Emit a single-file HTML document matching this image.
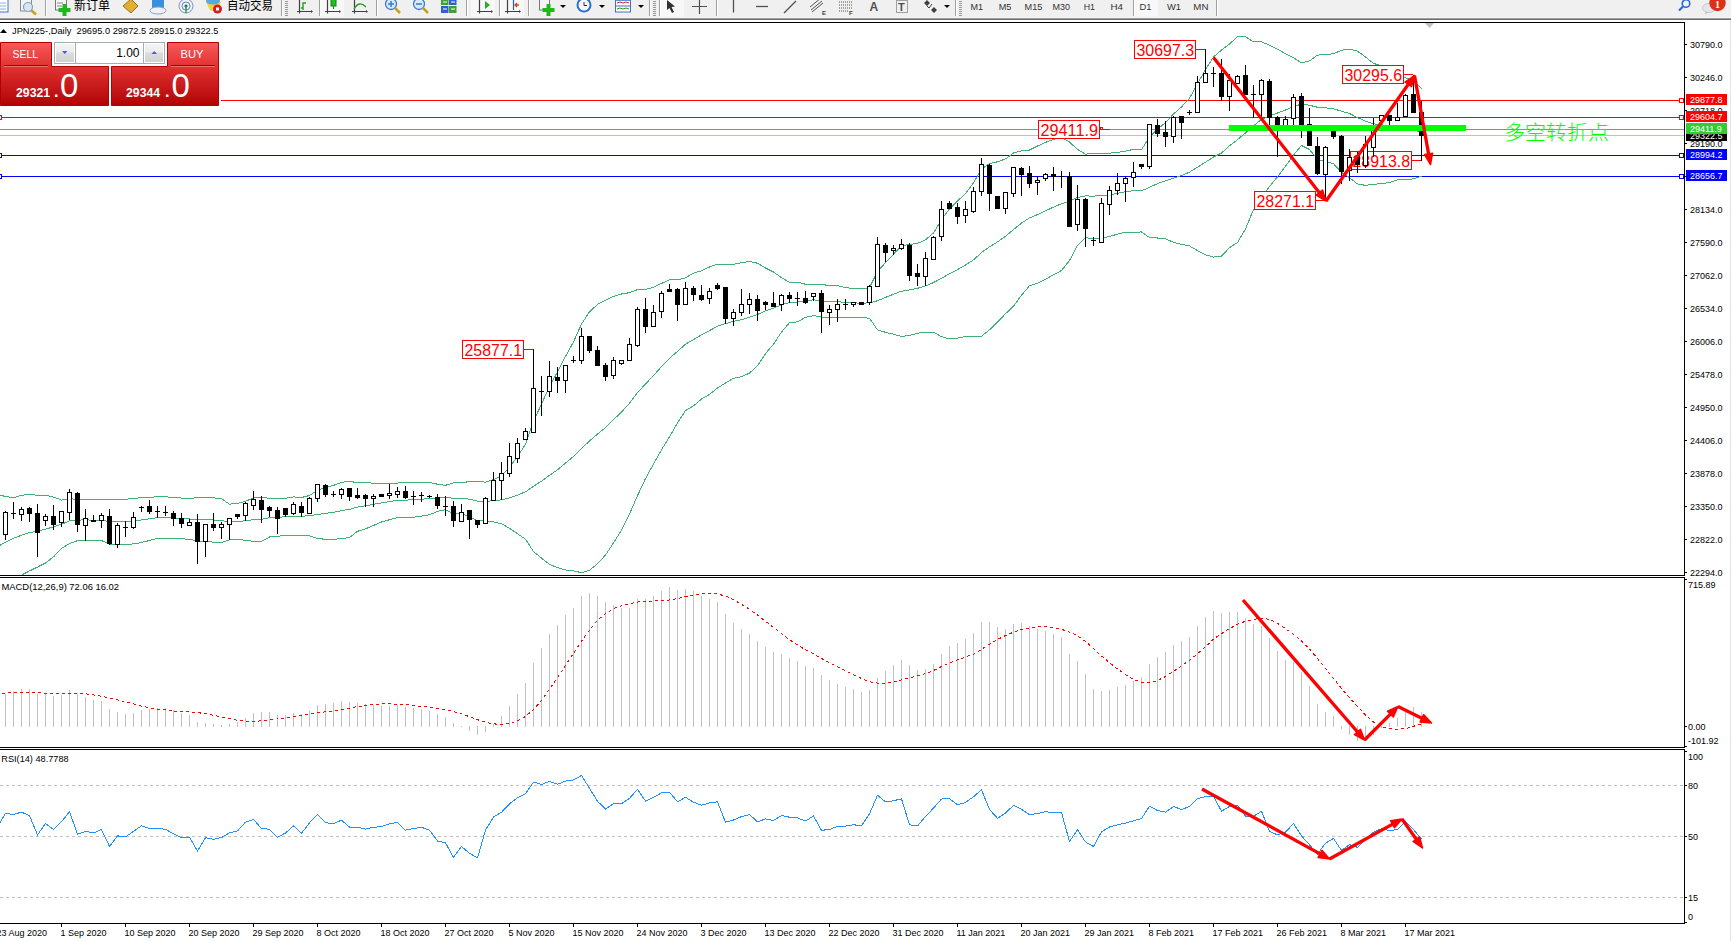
<!DOCTYPE html>
<html><head><meta charset="utf-8"><style>
html,body{margin:0;padding:0;width:1731px;height:941px;overflow:hidden;background:#fff}
</style></head><body>
<svg width="1731" height="941" viewBox="0 0 1731 941" style="position:absolute;left:0;top:0" font-family="'Liberation Sans', Arial, sans-serif">
<defs><clipPath id="cm"><rect x="0" y="23" width="1684" height="552"/></clipPath><clipPath id="cd"><rect x="0" y="578" width="1684" height="169"/></clipPath><clipPath id="cr"><rect x="0" y="750" width="1684" height="173"/></clipPath></defs>
<g clip-path="url(#cm)">
<rect x="221" y="100" width="1463" height="1" fill="#ff0000"/>
<rect x="0" y="117" width="1684" height="1" fill="#ff0000"/>
<rect x="0" y="129" width="1684" height="1" fill="#32cd32"/>
<rect x="0" y="135" width="1684" height="1" fill="#c0c0c0"/>
<rect x="0" y="155" width="1684" height="1" fill="#0000ff"/>
<rect x="0" y="176" width="1684" height="1" fill="#0000ff"/>
<rect x="1679.5" y="98.5" width="4" height="4" fill="#fff" stroke="#ff0000"/>
<rect x="1679.5" y="115.5" width="4" height="4" fill="#fff" stroke="#ff0000"/>
<rect x="-2.5" y="115.5" width="4" height="4" fill="#fff" stroke="#ff0000"/>
<rect x="1679.5" y="153.5" width="4" height="4" fill="#fff" stroke="#0000ff"/>
<rect x="-2.5" y="153.5" width="4" height="4" fill="#fff" stroke="#0000ff"/>
<rect x="1679.5" y="174.5" width="4" height="4" fill="#fff" stroke="#0000ff"/>
<rect x="-2.5" y="174.5" width="4" height="4" fill="#fff" stroke="#0000ff"/>
<polyline points="-3.5,493.91 5.5,496.59 13.5,497.59 21.5,495.41 29.5,494.28 37.5,495.25 45.5,495.08 53.5,497.17 61.5,500.04 69.5,498.46 77.5,499.56 85.5,499.39 93.5,499.83 101.5,499.91 109.5,499.09 117.5,499.12 125.5,499.12 133.5,498.75 141.5,497.47 149.5,497.06 157.5,496.97 165.5,496.93 173.5,497.22 181.5,498.11 189.5,498.67 197.5,497.57 205.5,497.88 213.5,497.87 221.5,498.76 229.5,504.11 237.5,503.58 245.5,501.21 253.5,498.09 261.5,497.36 269.5,498.37 277.5,498.37 285.5,498.23 293.5,496.90 301.5,497.54 309.5,495.49 317.5,490.13 325.5,487.64 333.5,485.34 341.5,482.49 349.5,481.19 357.5,482.84 365.5,482.75 373.5,483.16 381.5,483.69 389.5,483.42 397.5,483.04 405.5,482.77 413.5,482.51 421.5,482.25 429.5,482.34 437.5,484.23 445.5,485.32 453.5,482.86 461.5,482.96 469.5,481.45 477.5,481.61 485.5,482.09 493.5,479.58 501.5,475.94 509.5,467.47 517.5,456.50 525.5,444.40 533.5,421.23 541.5,404.17 549.5,386.28 557.5,371.93 565.5,356.41 573.5,341.87 581.5,324.12 589.5,311.85 597.5,304.44 605.5,300.06 613.5,296.40 621.5,294.00 629.5,292.69 637.5,289.60 645.5,289.42 653.5,287.28 661.5,283.47 669.5,279.91 677.5,279.94 685.5,277.82 693.5,273.12 701.5,270.80 709.5,266.97 717.5,264.11 725.5,264.41 733.5,264.34 741.5,262.77 749.5,261.39 757.5,263.22 765.5,268.05 773.5,272.01 781.5,277.71 789.5,282.41 797.5,282.10 805.5,284.29 813.5,284.05 821.5,284.45 829.5,285.55 837.5,285.56 845.5,287.63 853.5,288.45 861.5,288.77 869.5,287.62 877.5,271.60 885.5,262.53 893.5,254.23 901.5,245.97 909.5,244.41 917.5,243.39 925.5,239.85 933.5,232.93 941.5,219.84 949.5,208.73 957.5,201.09 965.5,193.49 973.5,182.97 981.5,168.98 989.5,163.67 997.5,161.77 1005.5,158.91 1013.5,152.93 1021.5,150.88 1029.5,150.02 1037.5,146.04 1045.5,142.36 1053.5,139.49 1061.5,137.02 1069.5,142.07 1077.5,149.43 1085.5,154.10 1093.5,153.70 1101.5,153.71 1109.5,153.14 1117.5,152.44 1125.5,151.15 1133.5,149.30 1141.5,149.54 1149.5,137.18 1157.5,129.18 1165.5,122.75 1173.5,114.09 1181.5,106.95 1189.5,98.28 1197.5,83.87 1205.5,69.57 1213.5,56.95 1221.5,49.99 1229.5,43.89 1237.5,36.72 1245.5,36.81 1253.5,41.93 1261.5,41.79 1269.5,45.22 1277.5,49.26 1285.5,53.68 1293.5,57.56 1301.5,62.92 1309.5,60.96 1317.5,55.16 1325.5,54.22 1333.5,53.89 1341.5,50.16 1349.5,49.20 1357.5,51.25 1365.5,56.97 1373.5,63.48 1381.5,65.64 1389.5,71.06 1397.5,77.68 1405.5,77.86 1413.5,80.51 1421.5,88.61" fill="none" stroke="#3cb371" stroke-width="1" shape-rendering="crispEdges"/>
<polyline points="-3.5,547.29 5.5,542.20 13.5,538.21 21.5,535.25 29.5,532.61 37.5,531.17 45.5,529.03 53.5,527.01 61.5,524.25 69.5,520.97 77.5,520.10 85.5,519.86 93.5,520.18 101.5,520.22 109.5,521.63 117.5,521.69 125.5,521.76 133.5,521.34 141.5,519.97 149.5,518.79 157.5,517.60 165.5,517.58 173.5,517.80 181.5,518.47 189.5,518.96 197.5,519.40 205.5,519.81 213.5,519.96 221.5,520.61 229.5,521.90 237.5,521.52 245.5,520.75 253.5,519.67 261.5,519.35 269.5,517.68 277.5,517.35 285.5,516.68 293.5,516.03 301.5,516.31 309.5,515.68 317.5,514.36 325.5,513.44 333.5,512.27 341.5,510.61 349.5,509.32 357.5,507.09 365.5,505.80 373.5,504.29 381.5,502.86 389.5,501.58 397.5,500.36 405.5,500.06 413.5,499.88 421.5,499.18 429.5,498.52 437.5,497.83 445.5,497.45 453.5,498.21 461.5,498.18 469.5,499.20 477.5,501.16 485.5,501.40 493.5,500.70 501.5,499.86 509.5,497.86 517.5,495.15 525.5,491.79 533.5,486.38 541.5,481.14 549.5,475.33 557.5,469.75 565.5,463.16 573.5,456.36 581.5,448.41 589.5,441.06 597.5,434.10 605.5,427.58 613.5,419.63 621.5,412.05 629.5,403.35 637.5,392.63 645.5,384.00 653.5,375.60 661.5,366.64 669.5,358.34 677.5,351.40 685.5,344.21 693.5,339.51 701.5,334.92 709.5,330.66 717.5,326.08 725.5,323.69 733.5,321.32 741.5,319.76 749.5,317.24 757.5,314.45 765.5,310.85 773.5,308.11 781.5,304.87 789.5,302.53 797.5,301.98 805.5,300.79 813.5,299.84 821.5,300.71 829.5,301.65 837.5,301.68 845.5,302.52 853.5,302.92 861.5,303.15 869.5,302.91 877.5,300.73 885.5,297.42 893.5,294.23 901.5,291.18 909.5,289.96 917.5,288.30 925.5,285.99 933.5,282.57 941.5,278.27 949.5,273.78 957.5,269.65 965.5,265.02 973.5,259.91 981.5,252.59 989.5,246.76 997.5,241.92 1005.5,236.33 1013.5,229.56 1021.5,223.06 1029.5,217.88 1037.5,214.64 1045.5,210.78 1053.5,207.14 1061.5,203.74 1069.5,201.29 1077.5,197.44 1085.5,195.95 1093.5,196.07 1101.5,195.78 1109.5,194.86 1117.5,193.23 1125.5,191.67 1133.5,190.70 1141.5,190.77 1149.5,187.36 1157.5,183.60 1165.5,180.75 1173.5,178.23 1181.5,175.63 1189.5,172.10 1197.5,167.23 1205.5,162.17 1213.5,157.03 1221.5,153.03 1229.5,145.77 1237.5,139.63 1245.5,132.97 1253.5,125.70 1261.5,119.55 1269.5,115.93 1277.5,113.00 1285.5,110.03 1293.5,106.32 1301.5,104.21 1309.5,105.25 1317.5,107.26 1325.5,107.85 1333.5,108.80 1341.5,111.25 1349.5,113.48 1357.5,117.61 1365.5,121.16 1373.5,123.80 1381.5,124.76 1389.5,126.73 1397.5,128.74 1405.5,128.78 1413.5,129.65 1421.5,132.40" fill="none" stroke="#3cb371" stroke-width="1" shape-rendering="crispEdges"/>
<polyline points="-3.5,600.68 5.5,587.81 13.5,578.82 21.5,575.09 29.5,570.94 37.5,567.09 45.5,562.98 53.5,556.85 61.5,548.46 69.5,543.48 77.5,540.63 85.5,540.33 93.5,540.53 101.5,540.53 109.5,544.17 117.5,544.27 125.5,544.39 133.5,543.94 141.5,542.47 149.5,540.52 157.5,538.23 165.5,538.23 173.5,538.38 181.5,538.82 189.5,539.24 197.5,541.23 205.5,541.73 213.5,542.05 221.5,542.46 229.5,539.70 237.5,539.45 245.5,540.29 253.5,541.25 261.5,541.34 269.5,536.99 277.5,536.32 285.5,535.12 293.5,535.15 301.5,535.07 309.5,535.87 317.5,538.59 325.5,539.25 333.5,539.21 341.5,538.74 349.5,537.45 357.5,531.34 365.5,528.84 373.5,525.42 381.5,522.03 389.5,519.74 397.5,517.68 405.5,517.35 413.5,517.26 421.5,516.10 429.5,514.70 437.5,511.42 445.5,509.59 453.5,513.56 461.5,513.39 469.5,516.94 477.5,520.71 485.5,520.71 493.5,521.83 501.5,523.79 509.5,528.25 517.5,533.80 525.5,539.19 533.5,551.54 541.5,558.11 549.5,564.39 557.5,567.56 565.5,569.90 573.5,570.85 581.5,572.70 589.5,570.27 597.5,563.76 605.5,555.10 613.5,542.86 621.5,530.11 629.5,514.00 637.5,495.67 645.5,478.59 653.5,463.92 661.5,449.80 669.5,436.78 677.5,422.87 685.5,410.60 693.5,405.91 701.5,399.03 709.5,394.34 717.5,388.05 725.5,382.97 733.5,378.30 741.5,376.74 749.5,373.09 757.5,365.69 765.5,353.65 773.5,344.21 781.5,332.03 789.5,322.65 797.5,321.86 805.5,317.29 813.5,315.64 821.5,316.97 829.5,317.75 837.5,317.81 845.5,317.41 853.5,317.39 861.5,317.54 869.5,318.20 877.5,329.85 885.5,332.32 893.5,334.22 901.5,336.40 909.5,335.51 917.5,333.20 925.5,332.13 933.5,332.21 941.5,336.69 949.5,338.83 957.5,338.20 965.5,336.54 973.5,336.84 981.5,336.20 989.5,329.84 997.5,322.08 1005.5,313.75 1013.5,306.19 1021.5,295.25 1029.5,285.74 1037.5,283.24 1045.5,279.20 1053.5,274.80 1061.5,270.47 1069.5,260.51 1077.5,245.45 1085.5,237.79 1093.5,238.45 1101.5,237.84 1109.5,236.58 1117.5,234.03 1125.5,232.20 1133.5,232.10 1141.5,232.00 1149.5,237.54 1157.5,238.01 1165.5,238.76 1173.5,242.38 1181.5,244.31 1189.5,245.92 1197.5,250.58 1205.5,254.78 1213.5,257.10 1221.5,256.08 1229.5,247.66 1237.5,242.54 1245.5,229.13 1253.5,209.46 1261.5,197.31 1269.5,186.65 1277.5,176.75 1285.5,166.38 1293.5,155.07 1301.5,145.50 1309.5,149.55 1317.5,159.36 1325.5,161.48 1333.5,163.71 1341.5,172.35 1349.5,177.76 1357.5,183.96 1365.5,185.35 1373.5,184.11 1381.5,183.88 1389.5,182.40 1397.5,179.79 1405.5,179.71 1413.5,178.80 1421.5,176.18" fill="none" stroke="#3cb371" stroke-width="1" shape-rendering="crispEdges"/>
<rect x="462.5" y="340.5" width="61" height="18" fill="#fff" stroke="#ff0000"/>
<text x="464.5" y="356" font-size="16.8" fill="#ff0000" textLength="57.5" lengthAdjust="spacingAndGlyphs">25877.1</text>
<rect x="524" y="349" width="9" height="1" fill="#ff0000"/>
<rect x="1134.5" y="40.5" width="61" height="18" fill="#fff" stroke="#ff0000"/>
<text x="1136.5" y="56" font-size="16.8" fill="#ff0000" textLength="57.5" lengthAdjust="spacingAndGlyphs">30697.3</text>
<rect x="1196" y="49" width="9" height="1" fill="#ff0000"/>
<rect x="1254.5" y="191.5" width="61" height="18" fill="#fff" stroke="#ff0000"/>
<text x="1256.5" y="207" font-size="16.8" fill="#ff0000" textLength="57.5" lengthAdjust="spacingAndGlyphs">28271.1</text>
<rect x="1316" y="200" width="9" height="1" fill="#ff0000"/>
<rect x="1350.5" y="151.5" width="61" height="18" fill="#fff" stroke="#ff0000"/>
<text x="1352.5" y="167" font-size="16.8" fill="#ff0000" textLength="57.5" lengthAdjust="spacingAndGlyphs">28913.8</text>
<rect x="1412" y="160" width="9" height="1" fill="#ff0000"/>
<rect x="1342.5" y="65.5" width="61" height="18" fill="#fff" stroke="#ff0000"/>
<text x="1344.5" y="81" font-size="16.8" fill="#ff0000" textLength="57.5" lengthAdjust="spacingAndGlyphs">30295.6</text>
<rect x="1404" y="74" width="9" height="1" fill="#ff0000"/>
<rect x="1038.5" y="120.5" width="61" height="18" fill="#fff" stroke="#ff0000"/>
<text x="1040.5" y="136" font-size="16.8" fill="#ff0000" textLength="57.5" lengthAdjust="spacingAndGlyphs">29411.9</text>
<rect x="1100.5" y="127.5" width="2" height="2" fill="#fff" stroke="#ff0000"/>
<rect x="1103" y="129" width="7" height="1" fill="#ff0000"/>
<rect x="5" y="511" width="1" height="29"/>
<rect x="3" y="512" width="5" height="23"/>
<rect x="4" y="513" width="3" height="21" fill="#fff"/>
<rect x="13" y="502" width="1" height="17"/>
<rect x="11" y="513" width="5" height="1"/>
<rect x="21" y="507" width="1" height="14"/>
<rect x="19" y="509" width="5" height="6"/>
<rect x="20" y="510" width="3" height="4" fill="#fff"/>
<rect x="29" y="507" width="1" height="15"/>
<rect x="27" y="508" width="5" height="6"/>
<rect x="37" y="504" width="1" height="53"/>
<rect x="35" y="513" width="5" height="20"/>
<rect x="45" y="514" width="1" height="12"/>
<rect x="43" y="516" width="5" height="5"/>
<rect x="44" y="517" width="3" height="3" fill="#fff"/>
<rect x="53" y="505" width="1" height="25"/>
<rect x="51" y="516" width="5" height="9"/>
<rect x="61" y="511" width="1" height="16"/>
<rect x="59" y="511" width="5" height="12"/>
<rect x="60" y="512" width="3" height="10" fill="#fff"/>
<rect x="69" y="489" width="1" height="31"/>
<rect x="67" y="492" width="5" height="21"/>
<rect x="68" y="493" width="3" height="19" fill="#fff"/>
<rect x="77" y="492" width="1" height="40"/>
<rect x="75" y="493" width="5" height="32"/>
<rect x="85" y="509" width="1" height="32"/>
<rect x="83" y="518" width="5" height="8"/>
<rect x="84" y="519" width="3" height="6" fill="#fff"/>
<rect x="93" y="515" width="1" height="7"/>
<rect x="91" y="520" width="5" height="2"/>
<rect x="101" y="513" width="1" height="15"/>
<rect x="99" y="515" width="5" height="6"/>
<rect x="100" y="516" width="3" height="4" fill="#fff"/>
<rect x="109" y="509" width="1" height="36"/>
<rect x="107" y="516" width="5" height="28"/>
<rect x="117" y="523" width="1" height="25"/>
<rect x="115" y="525" width="5" height="20"/>
<rect x="116" y="526" width="3" height="18" fill="#fff"/>
<rect x="125" y="521" width="1" height="16"/>
<rect x="123" y="527" width="5" height="1"/>
<rect x="133" y="512" width="1" height="17"/>
<rect x="131" y="517" width="5" height="11"/>
<rect x="132" y="518" width="3" height="9" fill="#fff"/>
<rect x="141" y="506" width="1" height="6"/>
<rect x="139" y="507" width="5" height="1"/>
<rect x="149" y="500" width="1" height="14"/>
<rect x="147" y="506" width="5" height="6"/>
<rect x="157" y="506" width="1" height="12"/>
<rect x="155" y="511" width="5" height="1"/>
<rect x="165" y="506" width="1" height="10"/>
<rect x="163" y="512" width="5" height="1"/>
<rect x="173" y="511" width="1" height="15"/>
<rect x="171" y="513" width="5" height="6"/>
<rect x="181" y="513" width="1" height="15"/>
<rect x="179" y="518" width="5" height="6"/>
<rect x="189" y="519" width="1" height="7"/>
<rect x="187" y="522" width="5" height="4"/>
<rect x="188" y="523" width="3" height="2" fill="#fff"/>
<rect x="197" y="514" width="1" height="50"/>
<rect x="195" y="522" width="5" height="20"/>
<rect x="205" y="524" width="1" height="33"/>
<rect x="203" y="524" width="5" height="18"/>
<rect x="204" y="525" width="3" height="16" fill="#fff"/>
<rect x="213" y="513" width="1" height="18"/>
<rect x="211" y="524" width="5" height="4"/>
<rect x="221" y="522" width="1" height="17"/>
<rect x="219" y="524" width="5" height="4"/>
<rect x="220" y="525" width="3" height="2" fill="#fff"/>
<rect x="229" y="518" width="1" height="22"/>
<rect x="227" y="518" width="5" height="7"/>
<rect x="228" y="519" width="3" height="5" fill="#fff"/>
<rect x="237" y="514" width="1" height="5"/>
<rect x="235" y="514" width="5" height="3"/>
<rect x="245" y="502" width="1" height="19"/>
<rect x="243" y="503" width="5" height="13"/>
<rect x="244" y="504" width="3" height="11" fill="#fff"/>
<rect x="253" y="491" width="1" height="19"/>
<rect x="251" y="499" width="5" height="7"/>
<rect x="252" y="500" width="3" height="5" fill="#fff"/>
<rect x="261" y="496" width="1" height="27"/>
<rect x="259" y="500" width="5" height="10"/>
<rect x="269" y="506" width="1" height="11"/>
<rect x="267" y="507" width="5" height="4"/>
<rect x="277" y="507" width="1" height="27"/>
<rect x="275" y="510" width="5" height="9"/>
<rect x="285" y="508" width="1" height="9"/>
<rect x="283" y="508" width="5" height="7"/>
<rect x="293" y="502" width="1" height="13"/>
<rect x="291" y="504" width="5" height="10"/>
<rect x="292" y="505" width="3" height="8" fill="#fff"/>
<rect x="301" y="502" width="1" height="15"/>
<rect x="299" y="506" width="5" height="7"/>
<rect x="309" y="497" width="1" height="17"/>
<rect x="307" y="498" width="5" height="16"/>
<rect x="308" y="499" width="3" height="14" fill="#fff"/>
<rect x="317" y="484" width="1" height="18"/>
<rect x="315" y="484" width="5" height="15"/>
<rect x="316" y="485" width="3" height="13" fill="#fff"/>
<rect x="325" y="484" width="1" height="13"/>
<rect x="323" y="485" width="5" height="10"/>
<rect x="333" y="491" width="1" height="6"/>
<rect x="331" y="494" width="5" height="1"/>
<rect x="341" y="488" width="1" height="11"/>
<rect x="339" y="489" width="5" height="6"/>
<rect x="340" y="490" width="3" height="4" fill="#fff"/>
<rect x="349" y="488" width="1" height="13"/>
<rect x="347" y="488" width="5" height="9"/>
<rect x="357" y="488" width="1" height="11"/>
<rect x="355" y="495" width="5" height="3"/>
<rect x="365" y="494" width="1" height="13"/>
<rect x="363" y="495" width="5" height="4"/>
<rect x="373" y="494" width="1" height="13"/>
<rect x="371" y="496" width="5" height="3"/>
<rect x="372" y="497" width="3" height="1" fill="#fff"/>
<rect x="381" y="494" width="1" height="3"/>
<rect x="379" y="494" width="5" height="3"/>
<rect x="389" y="484" width="1" height="15"/>
<rect x="387" y="493" width="5" height="3"/>
<rect x="388" y="494" width="3" height="1" fill="#fff"/>
<rect x="397" y="487" width="1" height="11"/>
<rect x="395" y="491" width="5" height="4"/>
<rect x="396" y="492" width="3" height="2" fill="#fff"/>
<rect x="405" y="486" width="1" height="13"/>
<rect x="403" y="491" width="5" height="7"/>
<rect x="413" y="491" width="1" height="14"/>
<rect x="411" y="496" width="5" height="1"/>
<rect x="421" y="492" width="1" height="10"/>
<rect x="419" y="495" width="5" height="1"/>
<rect x="429" y="495" width="1" height="3"/>
<rect x="427" y="496" width="5" height="1"/>
<rect x="437" y="494" width="1" height="15"/>
<rect x="435" y="497" width="5" height="9"/>
<rect x="445" y="496" width="1" height="20"/>
<rect x="443" y="506" width="5" height="1"/>
<rect x="453" y="501" width="1" height="26"/>
<rect x="451" y="506" width="5" height="15"/>
<rect x="461" y="504" width="1" height="18"/>
<rect x="459" y="512" width="5" height="10"/>
<rect x="460" y="513" width="3" height="8" fill="#fff"/>
<rect x="469" y="510" width="1" height="29"/>
<rect x="467" y="510" width="5" height="10"/>
<rect x="477" y="520" width="1" height="8"/>
<rect x="475" y="520" width="5" height="5"/>
<rect x="485" y="497" width="1" height="27"/>
<rect x="483" y="498" width="5" height="26"/>
<rect x="484" y="499" width="3" height="24" fill="#fff"/>
<rect x="493" y="472" width="1" height="29"/>
<rect x="491" y="480" width="5" height="21"/>
<rect x="492" y="481" width="3" height="19" fill="#fff"/>
<rect x="501" y="462" width="1" height="38"/>
<rect x="499" y="473" width="5" height="8"/>
<rect x="500" y="474" width="3" height="6" fill="#fff"/>
<rect x="509" y="443" width="1" height="34"/>
<rect x="507" y="456" width="5" height="18"/>
<rect x="508" y="457" width="3" height="16" fill="#fff"/>
<rect x="517" y="438" width="1" height="25"/>
<rect x="515" y="443" width="5" height="16"/>
<rect x="516" y="444" width="3" height="14" fill="#fff"/>
<rect x="525" y="428" width="1" height="12"/>
<rect x="523" y="431" width="5" height="9"/>
<rect x="524" y="432" width="3" height="7" fill="#fff"/>
<rect x="533" y="349" width="1" height="84"/>
<rect x="531" y="388" width="5" height="45"/>
<rect x="532" y="389" width="3" height="43" fill="#fff"/>
<rect x="541" y="376" width="1" height="40"/>
<rect x="539" y="391" width="5" height="1"/>
<rect x="549" y="361" width="1" height="36"/>
<rect x="547" y="376" width="5" height="16"/>
<rect x="548" y="377" width="3" height="14" fill="#fff"/>
<rect x="557" y="367" width="1" height="26"/>
<rect x="555" y="377" width="5" height="4"/>
<rect x="565" y="365" width="1" height="28"/>
<rect x="563" y="365" width="5" height="16"/>
<rect x="564" y="366" width="3" height="14" fill="#fff"/>
<rect x="573" y="356" width="1" height="7"/>
<rect x="571" y="360" width="5" height="1"/>
<rect x="581" y="328" width="1" height="36"/>
<rect x="579" y="336" width="5" height="25"/>
<rect x="580" y="337" width="3" height="23" fill="#fff"/>
<rect x="589" y="336" width="1" height="17"/>
<rect x="587" y="336" width="5" height="15"/>
<rect x="597" y="346" width="1" height="20"/>
<rect x="595" y="350" width="5" height="16"/>
<rect x="605" y="363" width="1" height="18"/>
<rect x="603" y="365" width="5" height="12"/>
<rect x="613" y="357" width="1" height="22"/>
<rect x="611" y="360" width="5" height="16"/>
<rect x="612" y="361" width="3" height="14" fill="#fff"/>
<rect x="621" y="360" width="1" height="5"/>
<rect x="619" y="360" width="5" height="4"/>
<rect x="620" y="361" width="3" height="2" fill="#fff"/>
<rect x="629" y="338" width="1" height="23"/>
<rect x="627" y="344" width="5" height="17"/>
<rect x="628" y="345" width="3" height="15" fill="#fff"/>
<rect x="637" y="307" width="1" height="40"/>
<rect x="635" y="309" width="5" height="37"/>
<rect x="636" y="310" width="3" height="35" fill="#fff"/>
<rect x="645" y="298" width="1" height="35"/>
<rect x="643" y="309" width="5" height="18"/>
<rect x="653" y="305" width="1" height="22"/>
<rect x="651" y="312" width="5" height="15"/>
<rect x="652" y="313" width="3" height="13" fill="#fff"/>
<rect x="661" y="291" width="1" height="27"/>
<rect x="659" y="293" width="5" height="19"/>
<rect x="660" y="294" width="3" height="17" fill="#fff"/>
<rect x="669" y="284" width="1" height="8"/>
<rect x="667" y="289" width="5" height="3"/>
<rect x="677" y="288" width="1" height="33"/>
<rect x="675" y="289" width="5" height="16"/>
<rect x="685" y="282" width="1" height="23"/>
<rect x="683" y="288" width="5" height="17"/>
<rect x="684" y="289" width="3" height="15" fill="#fff"/>
<rect x="693" y="286" width="1" height="15"/>
<rect x="691" y="288" width="5" height="7"/>
<rect x="701" y="285" width="1" height="16"/>
<rect x="699" y="295" width="5" height="5"/>
<rect x="709" y="288" width="1" height="16"/>
<rect x="707" y="291" width="5" height="8"/>
<rect x="708" y="292" width="3" height="6" fill="#fff"/>
<rect x="717" y="283" width="1" height="7"/>
<rect x="715" y="285" width="5" height="4"/>
<rect x="725" y="287" width="1" height="37"/>
<rect x="723" y="287" width="5" height="32"/>
<rect x="733" y="309" width="1" height="17"/>
<rect x="731" y="312" width="5" height="7"/>
<rect x="732" y="313" width="3" height="5" fill="#fff"/>
<rect x="741" y="289" width="1" height="27"/>
<rect x="739" y="304" width="5" height="9"/>
<rect x="740" y="305" width="3" height="7" fill="#fff"/>
<rect x="749" y="293" width="1" height="21"/>
<rect x="747" y="299" width="5" height="6"/>
<rect x="748" y="300" width="3" height="4" fill="#fff"/>
<rect x="757" y="295" width="1" height="26"/>
<rect x="755" y="299" width="5" height="12"/>
<rect x="765" y="301" width="1" height="9"/>
<rect x="763" y="302" width="5" height="3"/>
<rect x="773" y="292" width="1" height="15"/>
<rect x="771" y="303" width="5" height="4"/>
<rect x="781" y="294" width="1" height="17"/>
<rect x="779" y="295" width="5" height="10"/>
<rect x="780" y="296" width="3" height="8" fill="#fff"/>
<rect x="789" y="292" width="1" height="11"/>
<rect x="787" y="295" width="5" height="4"/>
<rect x="797" y="292" width="1" height="14"/>
<rect x="795" y="298" width="5" height="1"/>
<rect x="805" y="291" width="1" height="13"/>
<rect x="803" y="298" width="5" height="5"/>
<rect x="813" y="293" width="1" height="8"/>
<rect x="811" y="293" width="5" height="4"/>
<rect x="812" y="294" width="3" height="2" fill="#fff"/>
<rect x="821" y="290" width="1" height="43"/>
<rect x="819" y="293" width="5" height="19"/>
<rect x="829" y="305" width="1" height="20"/>
<rect x="827" y="309" width="5" height="4"/>
<rect x="828" y="310" width="3" height="2" fill="#fff"/>
<rect x="837" y="299" width="1" height="23"/>
<rect x="835" y="304" width="5" height="6"/>
<rect x="836" y="305" width="3" height="4" fill="#fff"/>
<rect x="845" y="299" width="1" height="11"/>
<rect x="843" y="304" width="5" height="1"/>
<rect x="853" y="302" width="1" height="5"/>
<rect x="851" y="302" width="5" height="3"/>
<rect x="852" y="303" width="3" height="1" fill="#fff"/>
<rect x="861" y="302" width="1" height="3"/>
<rect x="859" y="302" width="5" height="3"/>
<rect x="869" y="285" width="1" height="20"/>
<rect x="867" y="286" width="5" height="17"/>
<rect x="868" y="287" width="3" height="15" fill="#fff"/>
<rect x="877" y="237" width="1" height="50"/>
<rect x="875" y="244" width="5" height="43"/>
<rect x="876" y="245" width="3" height="41" fill="#fff"/>
<rect x="885" y="243" width="1" height="19"/>
<rect x="883" y="245" width="5" height="8"/>
<rect x="893" y="245" width="1" height="10"/>
<rect x="891" y="248" width="5" height="3"/>
<rect x="892" y="249" width="3" height="1" fill="#fff"/>
<rect x="901" y="239" width="1" height="11"/>
<rect x="899" y="244" width="5" height="5"/>
<rect x="900" y="245" width="3" height="3" fill="#fff"/>
<rect x="909" y="243" width="1" height="38"/>
<rect x="907" y="245" width="5" height="31"/>
<rect x="917" y="264" width="1" height="22"/>
<rect x="915" y="273" width="5" height="4"/>
<rect x="925" y="252" width="1" height="34"/>
<rect x="923" y="258" width="5" height="19"/>
<rect x="924" y="259" width="3" height="17" fill="#fff"/>
<rect x="933" y="236" width="1" height="24"/>
<rect x="931" y="237" width="5" height="23"/>
<rect x="932" y="238" width="3" height="21" fill="#fff"/>
<rect x="941" y="201" width="1" height="40"/>
<rect x="939" y="209" width="5" height="28"/>
<rect x="940" y="210" width="3" height="26" fill="#fff"/>
<rect x="949" y="201" width="1" height="8"/>
<rect x="947" y="203" width="5" height="6"/>
<rect x="957" y="203" width="1" height="21"/>
<rect x="955" y="207" width="5" height="10"/>
<rect x="965" y="201" width="1" height="22"/>
<rect x="963" y="209" width="5" height="7"/>
<rect x="964" y="210" width="3" height="5" fill="#fff"/>
<rect x="973" y="187" width="1" height="26"/>
<rect x="971" y="191" width="5" height="21"/>
<rect x="972" y="192" width="3" height="19" fill="#fff"/>
<rect x="981" y="158" width="1" height="38"/>
<rect x="979" y="164" width="5" height="28"/>
<rect x="980" y="165" width="3" height="26" fill="#fff"/>
<rect x="989" y="164" width="1" height="47"/>
<rect x="987" y="165" width="5" height="29"/>
<rect x="997" y="196" width="1" height="13"/>
<rect x="995" y="196" width="5" height="13"/>
<rect x="1005" y="192" width="1" height="22"/>
<rect x="1003" y="192" width="5" height="17"/>
<rect x="1004" y="193" width="3" height="15" fill="#fff"/>
<rect x="1013" y="167" width="1" height="30"/>
<rect x="1011" y="167" width="5" height="27"/>
<rect x="1012" y="168" width="3" height="25" fill="#fff"/>
<rect x="1021" y="167" width="1" height="29"/>
<rect x="1019" y="168" width="5" height="7"/>
<rect x="1029" y="166" width="1" height="22"/>
<rect x="1027" y="173" width="5" height="11"/>
<rect x="1037" y="176" width="1" height="19"/>
<rect x="1035" y="180" width="5" height="3"/>
<rect x="1036" y="181" width="3" height="1" fill="#fff"/>
<rect x="1045" y="173" width="1" height="8"/>
<rect x="1043" y="174" width="5" height="5"/>
<rect x="1044" y="175" width="3" height="3" fill="#fff"/>
<rect x="1053" y="167" width="1" height="24"/>
<rect x="1051" y="174" width="5" height="3"/>
<rect x="1061" y="171" width="1" height="17"/>
<rect x="1059" y="176" width="5" height="1"/>
<rect x="1069" y="172" width="1" height="55"/>
<rect x="1067" y="176" width="5" height="51"/>
<rect x="1077" y="185" width="1" height="46"/>
<rect x="1075" y="199" width="5" height="26"/>
<rect x="1076" y="200" width="3" height="24" fill="#fff"/>
<rect x="1085" y="198" width="1" height="49"/>
<rect x="1083" y="199" width="5" height="30"/>
<rect x="1093" y="237" width="1" height="9"/>
<rect x="1091" y="240" width="5" height="1"/>
<rect x="1101" y="198" width="1" height="45"/>
<rect x="1099" y="203" width="5" height="40"/>
<rect x="1100" y="204" width="3" height="38" fill="#fff"/>
<rect x="1109" y="186" width="1" height="29"/>
<rect x="1107" y="190" width="5" height="15"/>
<rect x="1108" y="191" width="3" height="13" fill="#fff"/>
<rect x="1117" y="173" width="1" height="22"/>
<rect x="1115" y="183" width="5" height="8"/>
<rect x="1116" y="184" width="3" height="6" fill="#fff"/>
<rect x="1125" y="176" width="1" height="26"/>
<rect x="1123" y="178" width="5" height="6"/>
<rect x="1124" y="179" width="3" height="4" fill="#fff"/>
<rect x="1133" y="162" width="1" height="25"/>
<rect x="1131" y="172" width="5" height="6"/>
<rect x="1132" y="173" width="3" height="4" fill="#fff"/>
<rect x="1141" y="164" width="1" height="5"/>
<rect x="1139" y="164" width="5" height="3"/>
<rect x="1149" y="124" width="1" height="45"/>
<rect x="1147" y="124" width="5" height="43"/>
<rect x="1148" y="125" width="3" height="41" fill="#fff"/>
<rect x="1157" y="119" width="1" height="18"/>
<rect x="1155" y="125" width="5" height="9"/>
<rect x="1165" y="121" width="1" height="26"/>
<rect x="1163" y="132" width="5" height="5"/>
<rect x="1173" y="116" width="1" height="27"/>
<rect x="1171" y="117" width="5" height="20"/>
<rect x="1172" y="118" width="3" height="18" fill="#fff"/>
<rect x="1181" y="116" width="1" height="23"/>
<rect x="1179" y="116" width="5" height="7"/>
<rect x="1189" y="110" width="1" height="5"/>
<rect x="1187" y="112" width="5" height="1"/>
<rect x="1197" y="76" width="1" height="37"/>
<rect x="1195" y="82" width="5" height="31"/>
<rect x="1196" y="83" width="3" height="29" fill="#fff"/>
<rect x="1205" y="49" width="1" height="34"/>
<rect x="1203" y="73" width="5" height="10"/>
<rect x="1204" y="74" width="3" height="8" fill="#fff"/>
<rect x="1213" y="67" width="1" height="20"/>
<rect x="1211" y="73" width="5" height="1"/>
<rect x="1221" y="59" width="1" height="42"/>
<rect x="1219" y="73" width="5" height="24"/>
<rect x="1229" y="74" width="1" height="37"/>
<rect x="1227" y="80" width="5" height="17"/>
<rect x="1228" y="81" width="3" height="15" fill="#fff"/>
<rect x="1237" y="75" width="1" height="9"/>
<rect x="1235" y="76" width="5" height="8"/>
<rect x="1236" y="77" width="3" height="6" fill="#fff"/>
<rect x="1245" y="65" width="1" height="30"/>
<rect x="1243" y="75" width="5" height="20"/>
<rect x="1253" y="85" width="1" height="33"/>
<rect x="1251" y="94" width="5" height="1"/>
<rect x="1261" y="79" width="1" height="39"/>
<rect x="1259" y="80" width="5" height="15"/>
<rect x="1260" y="81" width="3" height="13" fill="#fff"/>
<rect x="1269" y="79" width="1" height="47"/>
<rect x="1267" y="81" width="5" height="37"/>
<rect x="1277" y="116" width="1" height="41"/>
<rect x="1275" y="117" width="5" height="9"/>
<rect x="1285" y="116" width="1" height="12"/>
<rect x="1283" y="119" width="5" height="7"/>
<rect x="1284" y="120" width="3" height="5" fill="#fff"/>
<rect x="1293" y="94" width="1" height="31"/>
<rect x="1291" y="97" width="5" height="22"/>
<rect x="1292" y="98" width="3" height="20" fill="#fff"/>
<rect x="1301" y="93" width="1" height="45"/>
<rect x="1299" y="96" width="5" height="29"/>
<rect x="1309" y="108" width="1" height="38"/>
<rect x="1307" y="124" width="5" height="22"/>
<rect x="1317" y="137" width="1" height="38"/>
<rect x="1315" y="146" width="5" height="28"/>
<rect x="1325" y="146" width="1" height="55"/>
<rect x="1323" y="147" width="5" height="28"/>
<rect x="1324" y="148" width="3" height="26" fill="#fff"/>
<rect x="1333" y="130" width="1" height="9"/>
<rect x="1331" y="131" width="5" height="6"/>
<rect x="1341" y="135" width="1" height="49"/>
<rect x="1339" y="136" width="5" height="36"/>
<rect x="1349" y="149" width="1" height="32"/>
<rect x="1347" y="157" width="5" height="14"/>
<rect x="1348" y="158" width="3" height="12" fill="#fff"/>
<rect x="1357" y="152" width="1" height="21"/>
<rect x="1355" y="156" width="5" height="9"/>
<rect x="1365" y="136" width="1" height="32"/>
<rect x="1363" y="144" width="5" height="22"/>
<rect x="1364" y="145" width="3" height="20" fill="#fff"/>
<rect x="1373" y="118" width="1" height="39"/>
<rect x="1371" y="125" width="5" height="23"/>
<rect x="1372" y="126" width="3" height="21" fill="#fff"/>
<rect x="1381" y="115" width="1" height="6"/>
<rect x="1379" y="115" width="5" height="6"/>
<rect x="1380" y="116" width="3" height="4" fill="#fff"/>
<rect x="1389" y="115" width="1" height="11"/>
<rect x="1387" y="115" width="5" height="6"/>
<rect x="1397" y="103" width="1" height="18"/>
<rect x="1395" y="117" width="5" height="4"/>
<rect x="1396" y="118" width="3" height="2" fill="#fff"/>
<rect x="1405" y="94" width="1" height="23"/>
<rect x="1403" y="95" width="5" height="22"/>
<rect x="1404" y="96" width="3" height="20" fill="#fff"/>
<rect x="1413" y="75" width="1" height="38"/>
<rect x="1411" y="94" width="5" height="19"/>
<rect x="1421" y="101" width="1" height="60"/>
<rect x="1419" y="112" width="5" height="24"/>
</g>
<rect x="1229" y="125" width="237" height="6" fill="#00ff00"/>
<path d="M1213.5,57.5 L1323.5,197.9 M1326.0,201.0 L1412.2,78.8 M1414.5,75.5 L1429.8,160.6" fill="none" stroke="#ff0000" stroke-width="3.3" stroke-linecap="butt"/><path d="M1326.0,201.0 L1322.5,190.0 L1316.2,195.0 Z M1414.5,75.5 L1405.0,82.0 L1411.6,86.6 Z M1430.5,164.5 L1432.6,153.2 L1424.6,154.6 Z" fill="#ff0000" stroke="#ff0000" stroke-width="1.5" stroke-linejoin="round"/>
<text x="1504" y="140" font-size="20" fill="#00ff00" font-family="'Liberation Sans', 'Noto Sans CJK SC', sans-serif" font-weight="300" textLength="105" lengthAdjust="spacingAndGlyphs">多空转折点</text>
<g clip-path="url(#cd)">
<rect x="5" y="694" width="1" height="33" fill="#c0c0c0"/>
<rect x="13" y="691" width="1" height="36" fill="#c0c0c0"/>
<rect x="21" y="689" width="1" height="38" fill="#c0c0c0"/>
<rect x="29" y="689" width="1" height="38" fill="#c0c0c0"/>
<rect x="37" y="694" width="1" height="33" fill="#c0c0c0"/>
<rect x="45" y="694" width="1" height="33" fill="#c0c0c0"/>
<rect x="53" y="696" width="1" height="31" fill="#c0c0c0"/>
<rect x="61" y="695" width="1" height="32" fill="#c0c0c0"/>
<rect x="69" y="690" width="1" height="37" fill="#c0c0c0"/>
<rect x="77" y="694" width="1" height="33" fill="#c0c0c0"/>
<rect x="85" y="697" width="1" height="30" fill="#c0c0c0"/>
<rect x="93" y="700" width="1" height="27" fill="#c0c0c0"/>
<rect x="101" y="701" width="1" height="26" fill="#c0c0c0"/>
<rect x="109" y="709" width="1" height="18" fill="#c0c0c0"/>
<rect x="117" y="712" width="1" height="15" fill="#c0c0c0"/>
<rect x="125" y="714" width="1" height="13" fill="#c0c0c0"/>
<rect x="133" y="713" width="1" height="14" fill="#c0c0c0"/>
<rect x="141" y="710" width="1" height="17" fill="#c0c0c0"/>
<rect x="149" y="709" width="1" height="18" fill="#c0c0c0"/>
<rect x="157" y="708" width="1" height="19" fill="#c0c0c0"/>
<rect x="165" y="708" width="1" height="19" fill="#c0c0c0"/>
<rect x="173" y="710" width="1" height="17" fill="#c0c0c0"/>
<rect x="181" y="713" width="1" height="14" fill="#c0c0c0"/>
<rect x="189" y="715" width="1" height="12" fill="#c0c0c0"/>
<rect x="197" y="722" width="1" height="5" fill="#c0c0c0"/>
<rect x="205" y="723" width="1" height="4" fill="#c0c0c0"/>
<rect x="213" y="724" width="1" height="3" fill="#c0c0c0"/>
<rect x="221" y="725" width="1" height="2" fill="#c0c0c0"/>
<rect x="229" y="724" width="1" height="3" fill="#c0c0c0"/>
<rect x="237" y="722" width="1" height="5" fill="#c0c0c0"/>
<rect x="245" y="718" width="1" height="9" fill="#c0c0c0"/>
<rect x="253" y="713" width="1" height="14" fill="#c0c0c0"/>
<rect x="261" y="712" width="1" height="15" fill="#c0c0c0"/>
<rect x="269" y="712" width="1" height="15" fill="#c0c0c0"/>
<rect x="277" y="715" width="1" height="12" fill="#c0c0c0"/>
<rect x="285" y="715" width="1" height="12" fill="#c0c0c0"/>
<rect x="293" y="713" width="1" height="14" fill="#c0c0c0"/>
<rect x="301" y="714" width="1" height="13" fill="#c0c0c0"/>
<rect x="309" y="711" width="1" height="16" fill="#c0c0c0"/>
<rect x="317" y="705" width="1" height="22" fill="#c0c0c0"/>
<rect x="325" y="704" width="1" height="23" fill="#c0c0c0"/>
<rect x="333" y="703" width="1" height="24" fill="#c0c0c0"/>
<rect x="341" y="701" width="1" height="26" fill="#c0c0c0"/>
<rect x="349" y="702" width="1" height="25" fill="#c0c0c0"/>
<rect x="357" y="703" width="1" height="24" fill="#c0c0c0"/>
<rect x="365" y="704" width="1" height="23" fill="#c0c0c0"/>
<rect x="373" y="705" width="1" height="22" fill="#c0c0c0"/>
<rect x="381" y="706" width="1" height="21" fill="#c0c0c0"/>
<rect x="389" y="706" width="1" height="21" fill="#c0c0c0"/>
<rect x="397" y="705" width="1" height="22" fill="#c0c0c0"/>
<rect x="405" y="707" width="1" height="20" fill="#c0c0c0"/>
<rect x="413" y="708" width="1" height="19" fill="#c0c0c0"/>
<rect x="421" y="709" width="1" height="18" fill="#c0c0c0"/>
<rect x="429" y="711" width="1" height="16" fill="#c0c0c0"/>
<rect x="437" y="714" width="1" height="13" fill="#c0c0c0"/>
<rect x="445" y="717" width="1" height="10" fill="#c0c0c0"/>
<rect x="453" y="723" width="1" height="4" fill="#c0c0c0"/>
<rect x="461" y="726" width="1" height="1" fill="#c0c0c0"/>
<rect x="469" y="726" width="1" height="5" fill="#c0c0c0"/>
<rect x="477" y="726" width="1" height="9" fill="#c0c0c0"/>
<rect x="485" y="726" width="1" height="6" fill="#c0c0c0"/>
<rect x="493" y="724" width="1" height="3" fill="#c0c0c0"/>
<rect x="501" y="716" width="1" height="11" fill="#c0c0c0"/>
<rect x="509" y="706" width="1" height="21" fill="#c0c0c0"/>
<rect x="517" y="694" width="1" height="33" fill="#c0c0c0"/>
<rect x="525" y="683" width="1" height="44" fill="#c0c0c0"/>
<rect x="533" y="663" width="1" height="64" fill="#c0c0c0"/>
<rect x="541" y="648" width="1" height="79" fill="#c0c0c0"/>
<rect x="549" y="634" width="1" height="93" fill="#c0c0c0"/>
<rect x="557" y="625" width="1" height="102" fill="#c0c0c0"/>
<rect x="565" y="615" width="1" height="112" fill="#c0c0c0"/>
<rect x="573" y="608" width="1" height="119" fill="#c0c0c0"/>
<rect x="581" y="596" width="1" height="131" fill="#c0c0c0"/>
<rect x="589" y="593" width="1" height="134" fill="#c0c0c0"/>
<rect x="597" y="596" width="1" height="131" fill="#c0c0c0"/>
<rect x="605" y="602" width="1" height="125" fill="#c0c0c0"/>
<rect x="613" y="605" width="1" height="122" fill="#c0c0c0"/>
<rect x="621" y="608" width="1" height="119" fill="#c0c0c0"/>
<rect x="629" y="608" width="1" height="119" fill="#c0c0c0"/>
<rect x="637" y="599" width="1" height="128" fill="#c0c0c0"/>
<rect x="645" y="599" width="1" height="128" fill="#c0c0c0"/>
<rect x="653" y="596" width="1" height="131" fill="#c0c0c0"/>
<rect x="661" y="591" width="1" height="136" fill="#c0c0c0"/>
<rect x="669" y="587" width="1" height="140" fill="#c0c0c0"/>
<rect x="677" y="590" width="1" height="137" fill="#c0c0c0"/>
<rect x="685" y="589" width="1" height="138" fill="#c0c0c0"/>
<rect x="693" y="591" width="1" height="136" fill="#c0c0c0"/>
<rect x="701" y="596" width="1" height="131" fill="#c0c0c0"/>
<rect x="709" y="599" width="1" height="128" fill="#c0c0c0"/>
<rect x="717" y="602" width="1" height="125" fill="#c0c0c0"/>
<rect x="725" y="614" width="1" height="113" fill="#c0c0c0"/>
<rect x="733" y="623" width="1" height="104" fill="#c0c0c0"/>
<rect x="741" y="629" width="1" height="98" fill="#c0c0c0"/>
<rect x="749" y="634" width="1" height="93" fill="#c0c0c0"/>
<rect x="757" y="641" width="1" height="86" fill="#c0c0c0"/>
<rect x="765" y="647" width="1" height="80" fill="#c0c0c0"/>
<rect x="773" y="652" width="1" height="75" fill="#c0c0c0"/>
<rect x="781" y="654" width="1" height="73" fill="#c0c0c0"/>
<rect x="789" y="658" width="1" height="69" fill="#c0c0c0"/>
<rect x="797" y="661" width="1" height="66" fill="#c0c0c0"/>
<rect x="805" y="666" width="1" height="61" fill="#c0c0c0"/>
<rect x="813" y="668" width="1" height="59" fill="#c0c0c0"/>
<rect x="821" y="675" width="1" height="52" fill="#c0c0c0"/>
<rect x="829" y="680" width="1" height="47" fill="#c0c0c0"/>
<rect x="837" y="684" width="1" height="43" fill="#c0c0c0"/>
<rect x="845" y="687" width="1" height="40" fill="#c0c0c0"/>
<rect x="853" y="689" width="1" height="38" fill="#c0c0c0"/>
<rect x="861" y="692" width="1" height="35" fill="#c0c0c0"/>
<rect x="869" y="690" width="1" height="37" fill="#c0c0c0"/>
<rect x="877" y="678" width="1" height="49" fill="#c0c0c0"/>
<rect x="885" y="671" width="1" height="56" fill="#c0c0c0"/>
<rect x="893" y="665" width="1" height="62" fill="#c0c0c0"/>
<rect x="901" y="660" width="1" height="67" fill="#c0c0c0"/>
<rect x="909" y="665" width="1" height="62" fill="#c0c0c0"/>
<rect x="917" y="670" width="1" height="57" fill="#c0c0c0"/>
<rect x="925" y="669" width="1" height="58" fill="#c0c0c0"/>
<rect x="933" y="664" width="1" height="63" fill="#c0c0c0"/>
<rect x="941" y="654" width="1" height="73" fill="#c0c0c0"/>
<rect x="949" y="646" width="1" height="81" fill="#c0c0c0"/>
<rect x="957" y="643" width="1" height="84" fill="#c0c0c0"/>
<rect x="965" y="639" width="1" height="88" fill="#c0c0c0"/>
<rect x="973" y="633" width="1" height="94" fill="#c0c0c0"/>
<rect x="981" y="622" width="1" height="105" fill="#c0c0c0"/>
<rect x="989" y="622" width="1" height="105" fill="#c0c0c0"/>
<rect x="997" y="627" width="1" height="100" fill="#c0c0c0"/>
<rect x="1005" y="629" width="1" height="98" fill="#c0c0c0"/>
<rect x="1013" y="624" width="1" height="103" fill="#c0c0c0"/>
<rect x="1021" y="623" width="1" height="104" fill="#c0c0c0"/>
<rect x="1029" y="626" width="1" height="101" fill="#c0c0c0"/>
<rect x="1037" y="629" width="1" height="98" fill="#c0c0c0"/>
<rect x="1045" y="631" width="1" height="96" fill="#c0c0c0"/>
<rect x="1053" y="634" width="1" height="93" fill="#c0c0c0"/>
<rect x="1061" y="637" width="1" height="90" fill="#c0c0c0"/>
<rect x="1069" y="654" width="1" height="73" fill="#c0c0c0"/>
<rect x="1077" y="661" width="1" height="66" fill="#c0c0c0"/>
<rect x="1085" y="674" width="1" height="53" fill="#c0c0c0"/>
<rect x="1093" y="689" width="1" height="38" fill="#c0c0c0"/>
<rect x="1101" y="691" width="1" height="36" fill="#c0c0c0"/>
<rect x="1109" y="690" width="1" height="37" fill="#c0c0c0"/>
<rect x="1117" y="687" width="1" height="40" fill="#c0c0c0"/>
<rect x="1125" y="685" width="1" height="42" fill="#c0c0c0"/>
<rect x="1133" y="681" width="1" height="46" fill="#c0c0c0"/>
<rect x="1141" y="677" width="1" height="50" fill="#c0c0c0"/>
<rect x="1149" y="664" width="1" height="63" fill="#c0c0c0"/>
<rect x="1157" y="657" width="1" height="70" fill="#c0c0c0"/>
<rect x="1165" y="652" width="1" height="75" fill="#c0c0c0"/>
<rect x="1173" y="645" width="1" height="82" fill="#c0c0c0"/>
<rect x="1181" y="641" width="1" height="86" fill="#c0c0c0"/>
<rect x="1189" y="637" width="1" height="90" fill="#c0c0c0"/>
<rect x="1197" y="626" width="1" height="101" fill="#c0c0c0"/>
<rect x="1205" y="617" width="1" height="110" fill="#c0c0c0"/>
<rect x="1213" y="611" width="1" height="116" fill="#c0c0c0"/>
<rect x="1221" y="613" width="1" height="114" fill="#c0c0c0"/>
<rect x="1229" y="612" width="1" height="115" fill="#c0c0c0"/>
<rect x="1237" y="612" width="1" height="115" fill="#c0c0c0"/>
<rect x="1245" y="618" width="1" height="109" fill="#c0c0c0"/>
<rect x="1253" y="624" width="1" height="103" fill="#c0c0c0"/>
<rect x="1261" y="626" width="1" height="101" fill="#c0c0c0"/>
<rect x="1269" y="638" width="1" height="89" fill="#c0c0c0"/>
<rect x="1277" y="651" width="1" height="76" fill="#c0c0c0"/>
<rect x="1285" y="660" width="1" height="67" fill="#c0c0c0"/>
<rect x="1293" y="662" width="1" height="65" fill="#c0c0c0"/>
<rect x="1301" y="672" width="1" height="55" fill="#c0c0c0"/>
<rect x="1309" y="686" width="1" height="41" fill="#c0c0c0"/>
<rect x="1317" y="704" width="1" height="23" fill="#c0c0c0"/>
<rect x="1325" y="712" width="1" height="15" fill="#c0c0c0"/>
<rect x="1333" y="716" width="1" height="11" fill="#c0c0c0"/>
<rect x="1341" y="726" width="1" height="3" fill="#c0c0c0"/>
<rect x="1349" y="726" width="1" height="9" fill="#c0c0c0"/>
<rect x="1357" y="726" width="1" height="15" fill="#c0c0c0"/>
<rect x="1365" y="726" width="1" height="15" fill="#c0c0c0"/>
<rect x="1373" y="726" width="1" height="9" fill="#c0c0c0"/>
<rect x="1381" y="726" width="1" height="2" fill="#c0c0c0"/>
<rect x="1389" y="723" width="1" height="4" fill="#c0c0c0"/>
<rect x="1397" y="718" width="1" height="9" fill="#c0c0c0"/>
<rect x="1405" y="710" width="1" height="17" fill="#c0c0c0"/>
<rect x="1413" y="707" width="1" height="20" fill="#c0c0c0"/>
<rect x="1421" y="712" width="1" height="15" fill="#c0c0c0"/>
<polyline points="-3.5,694.16 5.5,693.01 13.5,692.47 21.5,692.27 29.5,692.18 37.5,692.71 45.5,693.24 53.5,693.73 61.5,693.81 69.5,693.01 77.5,693.11 85.5,693.72 93.5,694.92 101.5,696.30 109.5,698.04 117.5,699.99 125.5,701.93 133.5,703.92 141.5,706.16 149.5,707.78 157.5,709.04 165.5,709.96 173.5,710.96 181.5,711.32 189.5,711.70 197.5,712.60 205.5,713.67 213.5,715.24 221.5,717.01 229.5,718.73 237.5,720.29 245.5,721.15 253.5,721.21 261.5,720.93 269.5,719.84 277.5,718.89 285.5,717.86 293.5,716.57 301.5,715.51 309.5,714.29 317.5,712.93 325.5,711.86 333.5,710.76 341.5,709.49 349.5,708.05 357.5,706.65 365.5,705.61 373.5,704.57 381.5,703.94 389.5,703.95 397.5,704.16 405.5,704.67 413.5,705.51 421.5,706.35 429.5,707.24 437.5,708.34 445.5,709.70 453.5,711.66 461.5,713.93 469.5,716.66 477.5,719.69 485.5,722.23 493.5,723.85 501.5,724.46 509.5,723.55 517.5,721.00 525.5,716.49 533.5,709.45 541.5,700.38 549.5,689.26 557.5,677.48 565.5,665.44 573.5,653.40 581.5,641.25 589.5,629.98 597.5,620.31 605.5,613.58 613.5,608.71 621.5,605.76 629.5,603.81 637.5,602.03 645.5,601.06 653.5,601.06 661.5,600.83 669.5,599.90 677.5,598.50 685.5,596.73 693.5,594.89 701.5,593.62 709.5,593.61 717.5,594.01 725.5,596.00 733.5,599.61 741.5,604.30 749.5,609.23 757.5,615.09 765.5,621.23 773.5,627.44 781.5,633.57 789.5,639.71 797.5,644.96 805.5,649.69 813.5,653.96 821.5,658.48 829.5,662.79 837.5,666.92 845.5,670.80 853.5,674.69 861.5,678.50 869.5,681.69 877.5,683.01 885.5,683.32 893.5,682.23 901.5,679.95 909.5,677.83 917.5,675.91 925.5,673.67 933.5,670.57 941.5,666.53 949.5,662.98 957.5,659.87 965.5,657.05 973.5,654.11 981.5,649.39 989.5,644.11 997.5,639.47 1005.5,635.51 1013.5,632.20 1021.5,629.68 1029.5,627.85 1037.5,626.67 1045.5,626.39 1053.5,627.66 1061.5,629.28 1069.5,632.18 1077.5,635.74 1085.5,641.35 1093.5,648.67 1101.5,655.91 1109.5,662.68 1117.5,668.98 1125.5,674.65 1133.5,679.57 1141.5,682.21 1149.5,682.59 1157.5,680.60 1165.5,676.50 1173.5,671.32 1181.5,665.89 1189.5,660.25 1197.5,653.77 1205.5,646.63 1213.5,639.23 1221.5,633.58 1229.5,628.69 1237.5,624.24 1245.5,621.27 1253.5,619.36 1261.5,618.16 1269.5,619.49 1277.5,623.26 1285.5,628.75 1293.5,634.22 1301.5,640.83 1309.5,649.02 1317.5,658.62 1325.5,668.48 1333.5,678.49 1341.5,688.45 1349.5,697.63 1357.5,706.51 1365.5,715.09 1373.5,721.99 1381.5,726.57 1389.5,728.60 1397.5,729.28 1405.5,728.60 1413.5,726.32 1421.5,723.92" fill="none" stroke="#ff0000" stroke-width="1" stroke-dasharray="3 3" shape-rendering="crispEdges"/>
<path d="M1243.0,600.0 L1361.9,737.0 M1364.5,740.0 L1395.2,709.3 M1398.0,706.5 L1427.9,721.2" fill="none" stroke="#ff0000" stroke-width="3.3" stroke-linecap="butt"/><path d="M1364.5,740.0 L1360.5,729.2 L1354.4,734.5 Z M1398.0,706.5 L1387.5,711.2 L1393.3,717.0 Z M1431.5,723.0 L1423.6,714.6 L1420.1,721.9 Z" fill="#ff0000" stroke="#ff0000" stroke-width="1.5" stroke-linejoin="round"/>
</g>
<g clip-path="url(#cr)">
<line x1="0" y1="785.5" x2="1684" y2="785.5" stroke="#c0c0c0" stroke-dasharray="3 3"/>
<line x1="0" y1="836.5" x2="1684" y2="836.5" stroke="#c0c0c0" stroke-dasharray="3 3"/>
<line x1="0" y1="897.5" x2="1684" y2="897.5" stroke="#c0c0c0" stroke-dasharray="3 3"/>
<polyline points="-3.5,828.57 5.5,813.41 13.5,814.54 21.5,812.08 29.5,815.77 37.5,834.87 45.5,823.57 53.5,829.61 61.5,821.79 69.5,811.66 77.5,834.20 85.5,831.40 93.5,832.91 101.5,829.53 109.5,846.47 117.5,835.89 125.5,836.88 133.5,831.43 141.5,825.73 149.5,828.39 157.5,828.39 165.5,829.23 173.5,833.81 181.5,837.54 189.5,837.38 197.5,850.93 205.5,837.75 213.5,839.30 221.5,837.54 229.5,832.88 237.5,830.98 245.5,822.09 253.5,819.47 261.5,828.51 269.5,829.24 277.5,837.23 285.5,833.01 293.5,825.84 301.5,833.29 309.5,822.80 317.5,814.30 325.5,822.78 333.5,823.51 341.5,820.21 349.5,827.05 357.5,827.34 365.5,829.07 373.5,827.33 381.5,826.60 389.5,823.71 397.5,822.47 405.5,830.20 413.5,828.57 421.5,827.33 429.5,830.11 437.5,841.01 445.5,842.89 453.5,857.36 461.5,846.58 469.5,853.33 477.5,857.83 485.5,830.11 493.5,817.05 501.5,812.30 509.5,803.81 517.5,797.86 525.5,793.65 533.5,782.09 541.5,784.44 549.5,781.33 557.5,784.25 565.5,781.12 573.5,779.95 581.5,775.52 589.5,788.29 597.5,801.28 605.5,808.96 613.5,803.69 621.5,803.59 629.5,798.40 637.5,789.38 645.5,801.05 653.5,797.47 661.5,792.88 669.5,792.26 677.5,801.77 685.5,797.30 693.5,802.16 701.5,805.29 709.5,802.84 717.5,801.75 725.5,822.23 733.5,820.03 741.5,816.63 749.5,814.51 757.5,821.79 765.5,818.94 773.5,820.47 781.5,815.48 789.5,817.23 797.5,817.90 805.5,820.96 813.5,816.03 821.5,830.31 829.5,829.52 837.5,826.25 845.5,826.04 853.5,824.73 861.5,825.85 869.5,813.91 877.5,795.22 885.5,801.95 893.5,800.72 901.5,798.81 909.5,824.76 917.5,825.95 925.5,816.48 933.5,808.16 941.5,799.05 949.5,798.64 957.5,804.70 965.5,802.49 973.5,796.75 981.5,789.83 989.5,809.42 997.5,818.30 1005.5,812.96 1013.5,805.42 1021.5,809.32 1029.5,814.65 1037.5,813.54 1045.5,811.73 1053.5,812.61 1061.5,812.53 1069.5,841.42 1077.5,829.84 1085.5,841.92 1093.5,846.58 1101.5,831.76 1109.5,827.01 1117.5,824.83 1125.5,823.05 1133.5,820.78 1141.5,818.63 1149.5,806.08 1157.5,810.51 1165.5,812.13 1173.5,806.53 1181.5,809.44 1189.5,806.58 1197.5,798.55 1205.5,796.52 1213.5,796.35 1221.5,811.11 1229.5,806.49 1237.5,805.34 1245.5,816.28 1253.5,816.28 1261.5,811.22 1269.5,831.44 1277.5,834.84 1285.5,832.18 1293.5,823.44 1301.5,835.96 1309.5,844.78 1317.5,854.20 1325.5,843.13 1333.5,838.48 1341.5,850.35 1349.5,844.70 1357.5,847.32 1365.5,839.28 1373.5,832.30 1381.5,828.70 1389.5,830.74 1397.5,829.53 1405.5,821.83 1413.5,829.49 1421.5,839.24" fill="none" stroke="#1e90ff" stroke-width="1" shape-rendering="crispEdges"/>
<path d="M1202.0,789.0 L1326.0,857.1 M1329.5,859.0 L1398.5,820.9 M1402.0,819.0 L1420.2,844.7" fill="none" stroke="#ff0000" stroke-width="3.3" stroke-linecap="butt"/><path d="M1329.5,859.0 L1322.0,850.3 L1318.1,857.4 Z M1402.0,819.0 L1390.6,820.7 L1394.5,827.7 Z M1422.5,848.0 L1419.6,836.9 L1413.0,841.5 Z" fill="#ff0000" stroke="#ff0000" stroke-width="1.5" stroke-linejoin="round"/>
</g>
<rect x="0" y="22" width="1685" height="1"/><rect x="1684" y="22" width="1" height="554"/><rect x="0" y="575" width="1685" height="1"/>
<rect x="0" y="577" width="1685" height="1"/><rect x="1684" y="577" width="1" height="171"/><rect x="0" y="747" width="1685" height="1"/>
<rect x="0" y="749" width="1685" height="1"/><rect x="1684" y="749" width="1" height="175"/><rect x="0" y="923" width="1685" height="1"/>
<rect x="1685" y="44" width="2" height="1"/>
<text x="1690" y="47.5" font-size="9" fill="#000">30790.0</text>
<rect x="1685" y="77" width="2" height="1"/>
<text x="1690" y="80.5" font-size="9" fill="#000">30246.0</text>
<rect x="1685" y="110" width="2" height="1"/>
<text x="1690" y="113.5" font-size="9" fill="#000">29718.0</text>
<rect x="1685" y="143" width="2" height="1"/>
<text x="1690" y="146.5" font-size="9" fill="#000">29190.0</text>
<rect x="1685" y="176" width="2" height="1"/>
<text x="1690" y="179.5" font-size="9" fill="#000">28662.0</text>
<rect x="1685" y="209" width="2" height="1"/>
<text x="1690" y="212.5" font-size="9" fill="#000">28134.0</text>
<rect x="1685" y="242" width="2" height="1"/>
<text x="1690" y="245.5" font-size="9" fill="#000">27590.0</text>
<rect x="1685" y="275" width="2" height="1"/>
<text x="1690" y="278.5" font-size="9" fill="#000">27062.0</text>
<rect x="1685" y="308" width="2" height="1"/>
<text x="1690" y="311.5" font-size="9" fill="#000">26534.0</text>
<rect x="1685" y="341" width="2" height="1"/>
<text x="1690" y="344.5" font-size="9" fill="#000">26006.0</text>
<rect x="1685" y="374" width="2" height="1"/>
<text x="1690" y="377.5" font-size="9" fill="#000">25478.0</text>
<rect x="1685" y="407" width="2" height="1"/>
<text x="1690" y="410.5" font-size="9" fill="#000">24950.0</text>
<rect x="1685" y="440" width="2" height="1"/>
<text x="1690" y="443.5" font-size="9" fill="#000">24406.0</text>
<rect x="1685" y="473" width="2" height="1"/>
<text x="1690" y="476.5" font-size="9" fill="#000">23878.0</text>
<rect x="1685" y="506" width="2" height="1"/>
<text x="1690" y="509.5" font-size="9" fill="#000">23350.0</text>
<rect x="1685" y="539" width="2" height="1"/>
<text x="1690" y="542.5" font-size="9" fill="#000">22822.0</text>
<rect x="1685" y="572" width="2" height="1"/>
<text x="1690" y="575.5" font-size="9" fill="#000">22294.0</text>
<rect x="1686" y="170" width="41" height="11" fill="#0000ff"/>
<text x="1690" y="179" font-size="9" fill="#fff">28656.7</text>
<rect x="1686" y="149" width="41" height="11" fill="#0000ff"/>
<text x="1690" y="158" font-size="9" fill="#fff">28994.2</text>
<rect x="1686" y="130" width="41" height="11" fill="#000000"/>
<text x="1690" y="139" font-size="9" fill="#fff">29322.5</text>
<rect x="1686" y="123" width="41" height="11" fill="#32cd32"/>
<text x="1690" y="132" font-size="9" fill="#fff">29411.9</text>
<rect x="1686" y="111" width="41" height="11" fill="#ff0000"/>
<text x="1690" y="120" font-size="9" fill="#fff">29604.7</text>
<rect x="1686" y="94" width="41" height="11" fill="#ff0000"/>
<text x="1690" y="103" font-size="9" fill="#fff">29877.8</text>
<rect x="1685" y="579" width="2" height="1"/><rect x="1685" y="726" width="2" height="1"/><rect x="1685" y="746" width="2" height="1"/>
<text x="1688" y="588" font-size="9" fill="#000">715.89</text>
<text x="1688" y="729.5" font-size="9" fill="#000">0.00</text>
<text x="1688" y="744" font-size="9" fill="#000">-101.92</text>
<text x="1.5" y="590" font-size="9" fill="#000" textLength="117.5" lengthAdjust="spacingAndGlyphs">MACD(12,26,9) 72.06 16.02</text>
<rect x="1685" y="751" width="2" height="1"/>
<text x="1688" y="760" font-size="9" fill="#000">100</text>
<rect x="1685" y="785" width="2" height="1"/>
<text x="1688" y="788.5" font-size="9" fill="#000">80</text>
<rect x="1685" y="836" width="2" height="1"/>
<text x="1688" y="839.5" font-size="9" fill="#000">50</text>
<rect x="1685" y="897" width="2" height="1"/>
<text x="1688" y="900.5" font-size="9" fill="#000">15</text>
<rect x="1685" y="922" width="2" height="1"/>
<text x="1688" y="920" font-size="9" fill="#000">0</text>
<text x="1.3" y="762" font-size="9" fill="#000" textLength="67.3" lengthAdjust="spacingAndGlyphs">RSI(14) 48.7788</text>
<rect x="-3" y="924" width="1" height="3"/>
<text x="-3.5" y="936" font-size="9" fill="#000">23 Aug 2020</text>
<rect x="61" y="924" width="1" height="3"/>
<text x="60.5" y="936" font-size="9" fill="#000">1 Sep 2020</text>
<rect x="125" y="924" width="1" height="3"/>
<text x="124.5" y="936" font-size="9" fill="#000">10 Sep 2020</text>
<rect x="189" y="924" width="1" height="3"/>
<text x="188.5" y="936" font-size="9" fill="#000">20 Sep 2020</text>
<rect x="253" y="924" width="1" height="3"/>
<text x="252.5" y="936" font-size="9" fill="#000">29 Sep 2020</text>
<rect x="317" y="924" width="1" height="3"/>
<text x="316.5" y="936" font-size="9" fill="#000">8 Oct 2020</text>
<rect x="381" y="924" width="1" height="3"/>
<text x="380.5" y="936" font-size="9" fill="#000">18 Oct 2020</text>
<rect x="445" y="924" width="1" height="3"/>
<text x="444.5" y="936" font-size="9" fill="#000">27 Oct 2020</text>
<rect x="509" y="924" width="1" height="3"/>
<text x="508.5" y="936" font-size="9" fill="#000">5 Nov 2020</text>
<rect x="573" y="924" width="1" height="3"/>
<text x="572.5" y="936" font-size="9" fill="#000">15 Nov 2020</text>
<rect x="637" y="924" width="1" height="3"/>
<text x="636.5" y="936" font-size="9" fill="#000">24 Nov 2020</text>
<rect x="701" y="924" width="1" height="3"/>
<text x="700.5" y="936" font-size="9" fill="#000">3 Dec 2020</text>
<rect x="765" y="924" width="1" height="3"/>
<text x="764.5" y="936" font-size="9" fill="#000">13 Dec 2020</text>
<rect x="829" y="924" width="1" height="3"/>
<text x="828.5" y="936" font-size="9" fill="#000">22 Dec 2020</text>
<rect x="893" y="924" width="1" height="3"/>
<text x="892.5" y="936" font-size="9" fill="#000">31 Dec 2020</text>
<rect x="957" y="924" width="1" height="3"/>
<text x="956.5" y="936" font-size="9" fill="#000">11 Jan 2021</text>
<rect x="1021" y="924" width="1" height="3"/>
<text x="1020.5" y="936" font-size="9" fill="#000">20 Jan 2021</text>
<rect x="1085" y="924" width="1" height="3"/>
<text x="1084.5" y="936" font-size="9" fill="#000">29 Jan 2021</text>
<rect x="1149" y="924" width="1" height="3"/>
<text x="1148.5" y="936" font-size="9" fill="#000">8 Feb 2021</text>
<rect x="1213" y="924" width="1" height="3"/>
<text x="1212.5" y="936" font-size="9" fill="#000">17 Feb 2021</text>
<rect x="1277" y="924" width="1" height="3"/>
<text x="1276.5" y="936" font-size="9" fill="#000">26 Feb 2021</text>
<rect x="1341" y="924" width="1" height="3"/>
<text x="1340.5" y="936" font-size="9" fill="#000">8 Mar 2021</text>
<rect x="1405" y="924" width="1" height="3"/>
<text x="1404.5" y="936" font-size="9" fill="#000">17 Mar 2021</text>
<path d="M0,33 L3.5,29 L7,33 Z" fill="#000"/>
<text x="12" y="34" font-size="9" fill="#000" xml:space="preserve" textLength="206.5" lengthAdjust="spacingAndGlyphs">JPN225-,Daily  29695.0 29872.5 28915.0 29322.5</text>
<defs><linearGradient id="rg" x1="0" y1="0" x2="0" y2="1"><stop offset="0" stop-color="#f75a5a"/><stop offset="0.36" stop-color="#e33434"/><stop offset="0.4" stop-color="#e03030"/><stop offset="1" stop-color="#b00404"/></linearGradient><linearGradient id="bg1" x1="0" y1="0" x2="0" y2="1"><stop offset="0" stop-color="#f4f4f4"/><stop offset="0.45" stop-color="#ececec"/><stop offset="0.5" stop-color="#dcdcdc"/><stop offset="1" stop-color="#d2d2d2"/></linearGradient></defs>
<path d="M0.5,42.5 H51.5 V66.5 H108.5 V105.5 H0.5 Z" fill="url(#rg)" stroke="#b40000"/>
<path d="M218.5,42.5 H167.5 V66.5 H111.5 V105.5 H218.5 Z" fill="url(#rg)" stroke="#b40000"/>
<rect x="4" y="65" width="44" height="1" fill="#a00000"/><rect x="4" y="66" width="44" height="1" fill="#f07070"/>
<rect x="171" y="65" width="44" height="1" fill="#a00000"/><rect x="171" y="66" width="44" height="1" fill="#f07070"/>
<rect x="52" y="42" width="115" height="24" fill="#fff"/>
<rect x="54.5" y="42.5" width="110" height="21" fill="#fff" stroke="#a7abb2"/>
<rect x="56" y="44" width="18" height="18" fill="url(#bg1)"/><rect x="75" y="43" width="1" height="20" fill="#a7abb2"/>
<rect x="145" y="44" width="18" height="18" fill="url(#bg1)"/><rect x="143" y="43" width="1" height="20" fill="#a7abb2"/>
<path d="M62,51 L67.5,51 L64.75,54 Z" fill="#4a5fd0"/><path d="M151.5,54 L157,54 L154.25,51 Z" fill="#4a5fd0"/>
<text x="139.5" y="57" font-size="12" text-anchor="end" fill="#000">1.00</text>
<text x="12.5" y="57.5" font-size="11.5" fill="#fff" textLength="25.5" lengthAdjust="spacingAndGlyphs">SELL</text>
<text x="180.5" y="57.5" font-size="11.5" fill="#fff" textLength="23" lengthAdjust="spacingAndGlyphs">BUY</text>
<text x="16" y="97" font-size="12.3" font-weight="bold" fill="#fff">29321</text>
<text x="54" y="97" font-size="16" font-weight="bold" fill="#fff">.</text>
<text x="60" y="97" font-size="33" fill="#fff">0</text>
<text x="126" y="97" font-size="12.3" font-weight="bold" fill="#fff">29344</text>
<text x="165" y="97" font-size="16" font-weight="bold" fill="#fff">.</text>
<text x="171.5" y="97" font-size="33" fill="#fff">0</text>
<rect x="0" y="0" width="1731" height="18" fill="#f0f0f0"/><rect x="0" y="17" width="1731" height="1" fill="#f6f6f6"/><rect x="0" y="18" width="1731" height="1" fill="#9c9c9c"/><rect x="0" y="19" width="1731" height="1" fill="#6e6e6e"/>
<rect x="-3" y="-3" width="11" height="15" fill="#fff" stroke="#3b78c8"/><path d="M0,3h6M0,6h6M0,9h6" stroke="#8fb0e0"/>
<rect x="20.5" y="-3" width="11" height="14" fill="#f4f4f4" stroke="#888"/><circle cx="28" cy="7" r="4.5" fill="#dbe6f4" stroke="#7aa0d8" stroke-width="1.2"/><path d="M31,10 L36,14.5" stroke="#c9a020" stroke-width="2.5"/>
<rect x="45" y="0" width="1" height="16" fill="#a0a0a0"/><rect x="46" y="0" width="1" height="16" fill="#ffffff"/>
<rect x="55.5" y="-3" width="11" height="13" fill="#f4f4f4" stroke="#777"/><path d="M57,3h6M57,6h5" stroke="#888"/><path d="M64.5,4 v12 M58.5,10 h12" stroke="#1db81d" stroke-width="4"/>
<text x="74" y="10" font-size="12.5" fill="#000" font-family="'Liberation Sans', 'Noto Sans CJK SC', sans-serif" textLength="36" lengthAdjust="spacingAndGlyphs">新订单</text>
<path d="M123,6 L131,-1 L138,6 L131,13 Z" fill="#e0b030" stroke="#a07010"/>
<rect x="152" y="-2" width="12" height="10" fill="#3a8ee0"/><ellipse cx="158" cy="10.5" rx="8" ry="3.5" fill="#eef2f8" stroke="#8fa0b8"/>
<circle cx="186" cy="6" r="7" fill="none" stroke="#4070c0" stroke-width="1" opacity="0.7"/><circle cx="186" cy="6" r="4" fill="none" stroke="#4070c0" opacity="0.8"/><circle cx="186" cy="6" r="1.5" fill="#2050b0"/><path d="M186,6 v7" stroke="#30a030" stroke-width="1.5"/>
<path d="M206,2 Q213,-2 221,2 L216,12 L210,10 Z" fill="#f0d040"/><ellipse cx="213" cy="1" rx="7" ry="3.5" fill="#58a8e0"/><circle cx="217.5" cy="9" r="4.5" fill="#d02020"/><rect x="216" y="7.5" width="3" height="3" fill="#fff"/>
<text x="227" y="10" font-size="12.5" fill="#000" font-family="'Liberation Sans', 'Noto Sans CJK SC', sans-serif" textLength="46" lengthAdjust="spacingAndGlyphs">自动交易</text>
<rect x="281" y="0" width="1" height="16" fill="#a0a0a0"/><rect x="282" y="0" width="1" height="16" fill="#ffffff"/>
<rect x="285" y="1" width="3" height="1" fill="#9a9a9a"/>
<rect x="285" y="3" width="3" height="1" fill="#9a9a9a"/>
<rect x="285" y="5" width="3" height="1" fill="#9a9a9a"/>
<rect x="285" y="7" width="3" height="1" fill="#9a9a9a"/>
<rect x="285" y="9" width="3" height="1" fill="#9a9a9a"/>
<rect x="285" y="11" width="3" height="1" fill="#9a9a9a"/>
<rect x="285" y="13" width="3" height="1" fill="#9a9a9a"/>
<rect x="285" y="15" width="3" height="1" fill="#9a9a9a"/>
<path d="M299.5,0 V13.5 M297,11.5 H311" stroke="#404040" stroke-width="1.2" fill="none"/><path d="M311,10 l2,1.5 l-2,1.5z" fill="#404040"/>
<path d="M303,10 V3 h3 M303,8 h-2" stroke="#20a020" stroke-width="1.4" fill="none"/>
<rect x="319" y="0" width="1" height="16" fill="#a0a0a0"/><rect x="320" y="0" width="1" height="16" fill="#ffffff"/>
<rect x="321" y="0" width="23" height="16.5" fill="#f8f8f8"/>
<path d="M327.5,0 V13.5 M325,11.5 H339" stroke="#404040" stroke-width="1.2" fill="none"/><path d="M339,10 l2,1.5 l-2,1.5z" fill="#404040"/>
<rect x="331" y="-1" width="5" height="7" fill="#20c020" stroke="#108010"/><path d="M333.5,6 v3" stroke="#108010"/>
<path d="M354.5,0 V13.5 M352,11.5 H366" stroke="#404040" stroke-width="1.2" fill="none"/><path d="M366,10 l2,1.5 l-2,1.5z" fill="#404040"/>
<path d="M354,9 Q359,0 366,7" stroke="#20a020" stroke-width="1.3" fill="none"/>
<rect x="376" y="0" width="1" height="16" fill="#a0a0a0"/><rect x="377" y="0" width="1" height="16" fill="#ffffff"/>
<circle cx="391" cy="4" r="5.5" fill="#d8e8f8" stroke="#3a7ad0" stroke-width="1.3"/><path d="M388,4h6M391,1v6" stroke="#3a7ad0" stroke-width="1.5"/><path d="M395,8 L400,13" stroke="#c8a020" stroke-width="2.5"/>
<circle cx="419" cy="4" r="5.5" fill="#d8e8f8" stroke="#3a7ad0" stroke-width="1.3"/><path d="M416,4h6" stroke="#3a7ad0" stroke-width="1.5"/><path d="M423,8 L428,13" stroke="#c8a020" stroke-width="2.5"/>
<rect x="441" y="-1" width="7.5" height="6" fill="#40a030"/><rect x="449" y="-1" width="7.5" height="6" fill="#3060d0"/><rect x="441" y="6" width="7.5" height="7" fill="#3060d0"/><rect x="449" y="6" width="7.5" height="7" fill="#40a030"/><path d="M443,2h4M451,2h4M443,9h4M451,9h4" stroke="#fff"/>
<rect x="466" y="0" width="1" height="16" fill="#a0a0a0"/><rect x="467" y="0" width="1" height="16" fill="#ffffff"/>
<rect x="471" y="0" width="24" height="16.5" fill="#f8f8f8"/>
<path d="M479.5,0 V13.5 M477,11.5 H491" stroke="#404040" stroke-width="1.2" fill="none"/><path d="M491,10 l2,1.5 l-2,1.5z" fill="#404040"/>
<path d="M485,1 L490,5 L485,9 Z" fill="#20b020"/>
<rect x="499" y="0" width="1" height="16" fill="#a0a0a0"/><rect x="500" y="0" width="1" height="16" fill="#ffffff"/>
<rect x="501" y="0" width="23" height="16.5" fill="#f8f8f8"/>
<path d="M507.5,0 V13.5 M505,11.5 H519" stroke="#404040" stroke-width="1.2" fill="none"/><path d="M519,10 l2,1.5 l-2,1.5z" fill="#404040"/>
<path d="M513.5,0 V10" stroke="#2060c0" stroke-width="1.2"/><path d="M519,5 L515,5 M517,3 L515,5 L517,7" stroke="#e04010" stroke-width="1.3" fill="none"/>
<rect x="528" y="0" width="1" height="16" fill="#a0a0a0"/><rect x="529" y="0" width="1" height="16" fill="#ffffff"/>
<rect x="539.5" y="-3" width="10" height="13" fill="#f4f4f4" stroke="#777"/><path d="M548.5,4 v12 M542.5,10 h12" stroke="#1db81d" stroke-width="4"/>
<path d="M560,5 h6 l-3,3z" fill="#000"/>
<circle cx="584" cy="5" r="7.5" fill="#2a70d0"/><circle cx="584" cy="5" r="5.5" fill="#f8f8f8"/><path d="M584,2 V5.5 H587" stroke="#333" fill="none"/>
<path d="M599,5 h6 l-3,3z" fill="#000"/>
<rect x="615.5" y="-1" width="15" height="13" fill="#fff" stroke="#4070c0"/><rect x="616" y="-1" width="14" height="2" fill="#6090e0"/><path d="M617,3 l3,-1 l3,1 l3,-1 l3,1" stroke="#c03020" fill="none"/><path d="M617,9 l3,-1 l3,1 l3,-1 l3,1" stroke="#20a020" fill="none"/><path d="M616,6h14" stroke="#4070c0"/>
<path d="M638,5 h6 l-3,3z" fill="#000"/>
<rect x="649" y="0" width="1" height="16" fill="#a0a0a0"/><rect x="650" y="0" width="1" height="16" fill="#ffffff"/>
<rect x="653" y="1" width="3" height="1" fill="#9a9a9a"/>
<rect x="653" y="3" width="3" height="1" fill="#9a9a9a"/>
<rect x="653" y="5" width="3" height="1" fill="#9a9a9a"/>
<rect x="653" y="7" width="3" height="1" fill="#9a9a9a"/>
<rect x="653" y="9" width="3" height="1" fill="#9a9a9a"/>
<rect x="653" y="11" width="3" height="1" fill="#9a9a9a"/>
<rect x="653" y="13" width="3" height="1" fill="#9a9a9a"/>
<rect x="653" y="15" width="3" height="1" fill="#9a9a9a"/>
<rect x="659" y="0" width="1" height="16" fill="#a0a0a0"/><rect x="660" y="0" width="1" height="16" fill="#ffffff"/>
<rect x="661" y="0" width="23" height="16.5" fill="#f8f8f8"/>
<path d="M667,0 L667,10 L669.5,8 L672,13 L674,12 L671.5,7 L675,6.5 Z" fill="#303030"/>
<path d="M692,6.5 H707 M699.5,0 V14" stroke="#505050" stroke-width="1.2"/>
<rect x="716" y="0" width="1" height="16" fill="#a0a0a0"/><rect x="717" y="0" width="1" height="16" fill="#ffffff"/>
<path d="M733.5,0 V12.5" stroke="#505050" stroke-width="1.3"/>
<path d="M756,6.5 H768" stroke="#505050" stroke-width="1.3"/>
<path d="M784,13 L796,1" stroke="#505050" stroke-width="1.3"/>
<path d="M811,10 L822,1 M812,12 L823,3 M810,7 L821,-2" stroke="#505050" stroke-width="1"/><text x="822" y="15" font-size="6" font-weight="bold" fill="#404040">E</text>
<path d="M839,2H852M839,5H852M839,8H852M839,11H848" stroke="#505050" stroke-dasharray="1 1"/><text x="849" y="15" font-size="6" font-weight="bold" fill="#404040">F</text>
<text x="869.5" y="11" font-size="12" font-weight="bold" fill="#505050">A</text>
<rect x="896.5" y="0.5" width="11" height="12" fill="none" stroke="#505050" stroke-dasharray="1 1"/><text x="898" y="11" font-size="11" font-weight="bold" fill="#505050">T</text>
<path d="M924,3 l3,-3 l3,3 l-3,3z M931,10 l3,-3 l3,3 l-3,3z" fill="#404040"/><path d="M927,6 l2,2 l3,-4" stroke="#404040" fill="none"/>
<path d="M944,5 h6 l-3,3z" fill="#000"/>
<rect x="955" y="0" width="1" height="16" fill="#a0a0a0"/><rect x="956" y="0" width="1" height="16" fill="#ffffff"/>
<rect x="959" y="1" width="3" height="1" fill="#9a9a9a"/>
<rect x="959" y="3" width="3" height="1" fill="#9a9a9a"/>
<rect x="959" y="5" width="3" height="1" fill="#9a9a9a"/>
<rect x="959" y="7" width="3" height="1" fill="#9a9a9a"/>
<rect x="959" y="9" width="3" height="1" fill="#9a9a9a"/>
<rect x="959" y="11" width="3" height="1" fill="#9a9a9a"/>
<rect x="959" y="13" width="3" height="1" fill="#9a9a9a"/>
<rect x="959" y="15" width="3" height="1" fill="#9a9a9a"/>
<rect x="1133" y="0" width="1" height="16" fill="#a0a0a0"/><rect x="1134" y="0" width="1" height="16" fill="#ffffff"/>
<rect x="1135" y="0" width="23" height="16.5" fill="#f8f8f8"/>
<text x="970.5" y="10" font-size="9.5" fill="#333" textLength="12.5" lengthAdjust="spacingAndGlyphs">M1</text>
<text x="998.7" y="10" font-size="9.5" fill="#333" textLength="12.699999999999932" lengthAdjust="spacingAndGlyphs">M5</text>
<text x="1024.6" y="10" font-size="9.5" fill="#333" textLength="17.700000000000045" lengthAdjust="spacingAndGlyphs">M15</text>
<text x="1052.5" y="10" font-size="9.5" fill="#333" textLength="17.5" lengthAdjust="spacingAndGlyphs">M30</text>
<text x="1083.7" y="10" font-size="9.5" fill="#333" textLength="11.299999999999955" lengthAdjust="spacingAndGlyphs">H1</text>
<text x="1110.5" y="10" font-size="9.5" fill="#333" textLength="12.5" lengthAdjust="spacingAndGlyphs">H4</text>
<text x="1139.5" y="10" font-size="9.5" fill="#333" textLength="12.0" lengthAdjust="spacingAndGlyphs">D1</text>
<text x="1167" y="10" font-size="9.5" fill="#333" textLength="14" lengthAdjust="spacingAndGlyphs">W1</text>
<text x="1193.3" y="10" font-size="9.5" fill="#333" textLength="15.100000000000136" lengthAdjust="spacingAndGlyphs">MN</text>
<rect x="1216" y="0" width="1" height="16" fill="#a0a0a0"/><rect x="1217" y="0" width="1" height="16" fill="#ffffff"/>
<circle cx="1686" cy="3.5" r="3.8" fill="none" stroke="#2a6ad8" stroke-width="1.6"/><path d="M1683,6.5 L1679,10.5" stroke="#2a6ad8" stroke-width="2.2"/>
<ellipse cx="1709" cy="8" rx="6.5" ry="4.5" fill="#e4e6ec" stroke="#c8c8cc"/><path d="M1706,12 l-1,2.5 l3,-2" fill="#b0b0b0"/>
<circle cx="1717.5" cy="3" r="8.2" fill="#de3018"/><text x="1717.5" y="8" font-size="10" font-weight="bold" fill="#fff" text-anchor="middle" font-family="'Liberation Serif', serif">1</text>
<path d="M1425,23 L1434,23 L1429.5,28 Z" fill="#c0c0c0"/>
<rect x="1730" y="20" width="1" height="921" fill="#e3e3e3"/>
</svg>
</body></html>
